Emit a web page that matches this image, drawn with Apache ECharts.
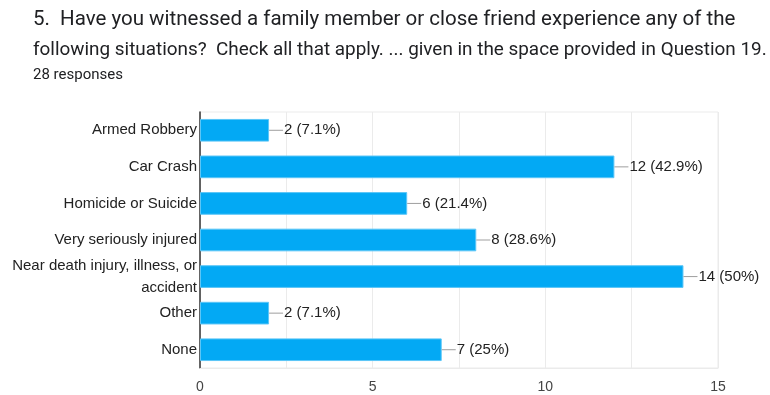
<!DOCTYPE html>
<html>
<head>
<meta charset="utf-8">
<script src="https://cdn.jsdelivr.net/npm/echarts@6/dist/echarts.min.js"></script>
<style>
  html, body { margin: 0; padding: 0; background: #fff; }
  #chart { width: 770px; height: 395px; }
</style>
</head>
<body>
<div id="chart"></div>
<script>
// Survey question and response data
const titleLines = [
  '5.  Have you witnessed a family member or close friend experience any of the',
  'following situations?  Check all that apply. ... given in the space provided in Question 19.'
];
const responseCount = '28 responses';
const categories = [
  'Armed Robbery',
  'Car Crash',
  'Homicide or Suicide',
  'Very seriously injured',
  'Near death injury, illness, or\naccident',
  'Other',
  'None'
];
const counts = [2, 12, 6, 8, 14, 2, 7];
const percents = ['7.1%', '42.9%', '21.4%', '28.6%', '50%', '7.1%', '25%'];
const xTicks = [0, 5, 10, 15];

const chart = echarts.init(document.getElementById('chart'), null, { renderer: 'canvas' });

const FONT = '"Liberation Sans", Arial, sans-serif';
const HEAD_FONT = 'Roboto, "Liberation Sans", sans-serif';

chart.setOption({
  animation: false,
  backgroundColor: '#ffffff',
  title: [
    {
      text: '{l1|' + titleLines[0] + '}\n{l2|' + titleLines[1] + '}',
      left: 28,
      top: 0,
      textStyle: {
        fontFamily: HEAD_FONT,
        fontWeight: 'normal',
        color: '#202124',
        rich: {
          l1: { fontFamily: HEAD_FONT, fontSize: 20.5, color: '#202124', lineHeight: 30 },
          l2: { fontFamily: HEAD_FONT, fontSize: 18.9, color: '#202124', lineHeight: 30 }
        }
      }
    },
    {
      text: responseCount,
      left: 28,
      top: 63,
      textStyle: { fontFamily: HEAD_FONT, fontSize: 15, fontWeight: 'normal', color: '#202124' }
    }
  ],
  // plot frame: light border on top, right and bottom
  grid: { left: 200, right: 52, top: 112, bottom: 27, containLabel: false, show: true, borderColor: '#ebebeb', borderWidth: 1 },
  xAxis: {
    type: 'value',
    min: 0,
    max: 15,
    interval: 2.5,
    axisLine: { show: true, lineStyle: { color: '#ebebeb' } },
    axisTick: { show: false },
    splitLine: { show: true, lineStyle: { color: '#ebebeb', width: 1 } },
    axisLabel: {
      fontFamily: FONT,
      fontSize: 14,
      color: '#444',
      margin: 12,
      formatter: v => (xTicks.indexOf(v) >= 0 ? String(v) : '')
    }
  },
  yAxis: {
    type: 'category',
    inverse: true,
    data: categories,
    axisLine: { show: true, lineStyle: { color: '#333', width: 1.5 } },
    axisTick: { show: false },
    splitLine: { show: false },
    axisLabel: {
      fontFamily: FONT,
      fontSize: 15,
      color: '#222',
      margin: 3,
      lineHeight: 22,
      align: 'right'
    }
  },
  series: [
    {
      type: 'bar',
      data: counts,
      barCategoryGap: '38%',
      itemStyle: { color: '#03a9f4', borderColor: '#5cc6f7', borderWidth: 1 },
      label: {
        show: true,
        position: 'right',
        distance: 0,
        formatter: p => '{lead|}{txt|' + p.value + ' (' + percents[p.dataIndex] + ')}',
        rich: {
          lead: { width: 14, height: 1, backgroundColor: '#9e9e9e' },
          txt: { fontFamily: FONT, fontSize: 15, color: '#222', padding: [0, 0, 0, 1] }
        }
      }
    }
  ]
});
</script>
</body>
</html>
